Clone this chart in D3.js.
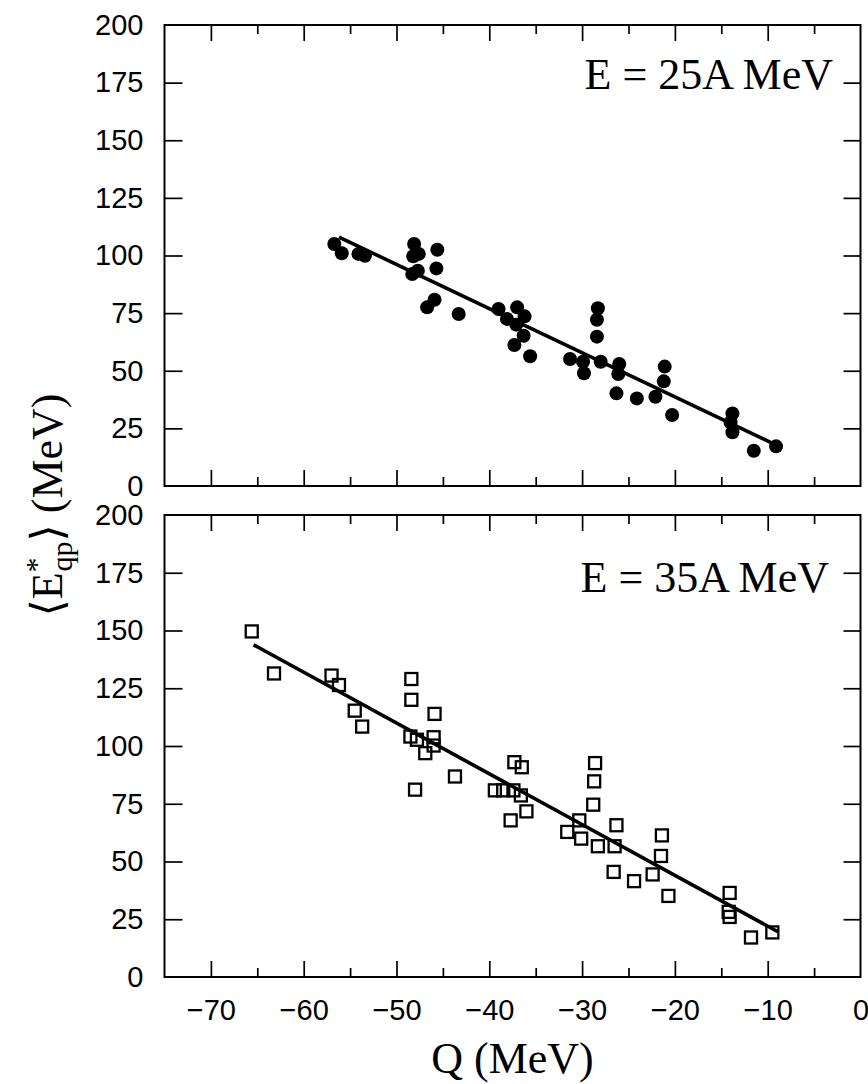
<!DOCTYPE html>
<html lang="en">
<head>
<meta charset="UTF-8">
<title>Eqp vs Q</title>
<script src="https://d3js.org/d3.v7.min.js"></script>
<style>
  body { margin: 0; background: #fff; }
  svg { display: block; }
  .tick text { font-family: "Liberation Sans", Arial, sans-serif; font-size: 29px; fill: #000; }
  .tick line { stroke: #000; stroke-width: 1.7; }
  .domain { display: none; }
</style>
</head>
<body>
<svg id="chart" width="868" height="1084"></svg>
<script>
// E = 25A MeV (filled circles)
var q25 = [-56.7, -55.9, -54.1, -53.4, -48.1, -47.6, -48.2, -45.6, -45.7, -47.7, -48.3,
  -45.9, -46.7, -43.3, -39.0, -37.0, -38.1, -36.2, -37.1, -36.3, -37.3, -35.6, -31.3,
  -29.9, -29.8, -28.3, -28.4, -28.4, -28.0, -26.0, -26.1, -26.3, -24.1, -22.1, -21.1,
  -21.2, -20.3, -13.8, -14.0, -13.8, -11.5, -9.1];
var e25 = [105.0, 101.0, 100.7, 99.9, 105.0, 100.7, 99.7, 102.5, 94.4, 93.4, 92.0,
  80.8, 77.5, 74.6, 76.8, 77.5, 72.5, 73.6, 70.0, 65.2, 61.2, 56.3, 55.1,
  53.9, 48.9, 77.1, 72.1, 64.8, 53.9, 52.9, 48.6, 40.2, 38.0, 38.7, 51.8,
  45.4, 30.8, 31.5, 27.6, 23.3, 15.3, 17.2];
var fit25Q = [-56.2, -8.7];
var fit25E = [108.0, 17.0];

// E = 35A MeV (open squares)
var q35 = [-65.6, -63.2, -57.0, -56.2, -54.5, -53.7, -48.4, -48.4, -45.9, -48.5, -47.8,
  -46.0, -46.0, -46.9, -48.0, -43.7, -37.3, -36.5, -39.4, -38.5, -37.4, -36.6, -36.0,
  -37.7, -28.6, -28.7, -28.8, -30.3, -31.6, -30.1, -28.3, -26.3, -26.5, -26.6, -24.4,
  -22.4, -21.4, -21.5, -20.7, -14.1, -14.2, -14.1, -11.8, -9.5];
var e35 = [149.6, 131.4, 130.5, 126.4, 115.3, 108.4, 129.0, 120.0, 113.9, 104.1, 102.7,
  103.8, 100.2, 96.9, 81.1, 86.8, 93.0, 90.8, 80.8, 80.8, 80.8, 78.6, 71.7,
  67.8, 92.6, 84.7, 74.6, 67.8, 62.8, 59.9, 56.6, 65.7, 56.6, 45.5, 41.5,
  44.4, 61.3, 52.4, 35.1, 36.4, 28.2, 26.0, 17.1, 19.3];
var fit35Q = [-65.4, -8.9];
var fit35E = [143.8, 19.6];

var yTicks = [0, 25, 50, 75, 100, 125, 150, 175, 200];
var xMajor = [-70, -60, -50, -40, -30, -20, -10, 0];
var xMinor = [-65, -55, -45, -35, -25, -15, -5];
var xLabels = ["\u221270", "\u221260", "\u221250", "\u221240", "\u221230", "\u221220", "\u221210", "0"];

var svg = d3.select("#chart");
var left = 164.5, right = 860.5;

var x = d3.scaleLinear().domain([-75, 0]).range([left, right]);

var panels = [
  { top: 25, bottom: 486, q: q25, e: e25, fq: fit25Q, fe: fit25E, label: "E = 25A MeV", lx: 833, ly: 89, mark: "circle", xlab: false },
  { top: 515, bottom: 977, q: q35, e: e35, fq: fit35Q, fe: fit35E, label: "E = 35A MeV", lx: 829, ly: 592, mark: "square", xlab: true }
];

panels.forEach(function(p) {
  var y = d3.scaleLinear().domain([0, 200]).range([p.bottom, p.top]);
  var g = svg.append("g");

  // left ticks + labels
  g.append("g")
    .attr("transform", "translate(" + left + ",0)")
    .call(d3.axisLeft(y).tickValues(yTicks).tickSize(-18).tickPadding(21).tickFormat(d3.format("d")))
    .selectAll(".tick line").filter(function(d){ return d === 0 || d === 200; }).remove();
  // right ticks
  g.append("g")
    .attr("transform", "translate(" + right + ",0)")
    .call(d3.axisRight(y).tickValues(yTicks.slice(1, -1)).tickSize(-17).tickFormat(""));

  // bottom ticks
  var bot = g.append("g").attr("transform", "translate(0," + p.bottom + ")");
  bot.append("g").call(d3.axisBottom(x).tickValues(xMajor.slice(0, -1)).tickSize(-16).tickFormat(""));
  bot.append("g").call(d3.axisBottom(x).tickValues(xMinor).tickSize(-9).tickFormat(""));
  if (p.xlab) {
    bot.append("g")
      .call(d3.axisBottom(x).tickValues(xMajor).tickSize(0).tickPadding(22)
        .tickFormat(function(d, i){ return xLabels[i]; }));
  }
  // top ticks
  var tp = g.append("g").attr("transform", "translate(0," + p.top + ")");
  tp.append("g").call(d3.axisTop(x).tickValues(xMajor.slice(0, -1)).tickSize(-16).tickFormat(""));
  tp.append("g").call(d3.axisTop(x).tickValues(xMinor).tickSize(-9).tickFormat(""));

  // frame
  g.append("rect")
    .attr("x", left).attr("y", p.top)
    .attr("width", right - left).attr("height", p.bottom - p.top)
    .attr("fill", "none").attr("stroke", "#000").attr("stroke-width", 2);

  // fit line
  g.append("path")
    .datum(d3.zip(p.fq, p.fe))
    .attr("d", d3.line().x(function(d){ return x(d[0]); }).y(function(d){ return y(d[1]); }))
    .attr("stroke", "#000").attr("stroke-width", 3.6).attr("fill", "none");

  var pts = d3.zip(p.q, p.e);
  if (p.mark === "circle") {
    g.selectAll("circle.pt").data(pts).enter().append("circle")
      .attr("class", "pt")
      .attr("cx", function(d){ return x(d[0]); })
      .attr("cy", function(d){ return y(d[1]); })
      .attr("r", 7)
      .attr("fill", "#000");
  } else {
    var s = 12;
    g.selectAll("rect.pt").data(pts).enter().append("rect")
      .attr("class", "pt")
      .attr("x", function(d){ return x(d[0]) - s / 2; })
      .attr("y", function(d){ return y(d[1]) - s / 2; })
      .attr("width", s).attr("height", s)
      .attr("fill", "none").attr("stroke", "#000").attr("stroke-width", 2.3);
  }

  g.append("text")
    .attr("x", p.lx).attr("y", p.ly)
    .attr("text-anchor", "end")
    .style("font-family", "'Liberation Serif', 'Times New Roman', serif")
    .style("font-size", "44px")
    .text(p.label);
});

// x axis title
svg.append("text")
  .attr("x", (left + right) / 2).attr("y", 1073)
  .attr("text-anchor", "middle")
  .style("font-family", "'Liberation Serif', 'Times New Roman', serif")
  .style("font-size", "44px")
  .text("Q (MeV)");

// y axis title
var yt = svg.append("text")
  .attr("transform", "translate(62,505) rotate(-90)")
  .attr("text-anchor", "middle")
  .style("font-family", "'Liberation Serif', 'DejaVu Serif', serif")
  .style("font-size", "44px");
yt.append("tspan").text("\u27E8E");
yt.append("tspan").attr("dy", -16).style("font-size", "30px").text("*");
yt.append("tspan").attr("dx", -14).attr("dy", 26).style("font-size", "30px").text("qp");
yt.append("tspan").attr("dy", -10).text("\u27E9  (MeV)");
</script>
</body>
</html>
